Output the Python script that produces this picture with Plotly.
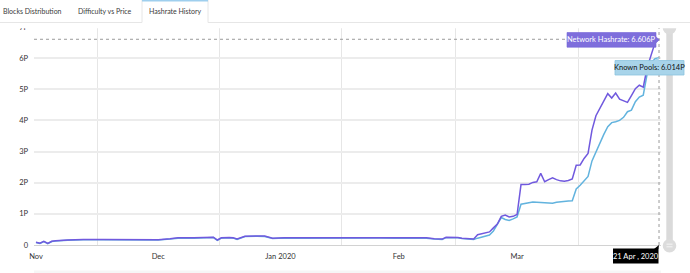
import pandas as pd
import plotly.graph_objects as go

# ---------------- data ----------------
dates = [
    "2019-11-15", "2019-11-16", "2019-11-17", "2019-11-18", "2019-11-19", "2019-11-20", "2019-11-23", "2019-11-27",
    "2019-12-02", "2019-12-08", "2019-12-14", "2019-12-16", "2019-12-19", "2019-12-21", "2019-12-25", "2019-12-29",
    "2019-12-30", "2019-12-31",
    "2020-01-01", "2020-01-03", "2020-01-04", "2020-01-05", "2020-01-07", "2020-01-10", "2020-01-12", "2020-01-14",
    "2020-01-17", "2020-01-21", "2020-01-25", "2020-01-29",
    "2020-02-02", "2020-02-06", "2020-02-10", "2020-02-14", "2020-02-18", "2020-02-22", "2020-02-24", "2020-02-25",
    "2020-02-26", "2020-02-27", "2020-02-28", "2020-02-29",
    "2020-03-01", "2020-03-02", "2020-03-03", "2020-03-04", "2020-03-05", "2020-03-06", "2020-03-07", "2020-03-08",
    "2020-03-09", "2020-03-10", "2020-03-11", "2020-03-12", "2020-03-13", "2020-03-14", "2020-03-15", "2020-03-16",
    "2020-03-17", "2020-03-18", "2020-03-19", "2020-03-20", "2020-03-21", "2020-03-22", "2020-03-23", "2020-03-24",
    "2020-03-25", "2020-03-26", "2020-03-27", "2020-03-28", "2020-03-29", "2020-03-30", "2020-03-31",
    "2020-04-01", "2020-04-02", "2020-04-03", "2020-04-04", "2020-04-05", "2020-04-06", "2020-04-07", "2020-04-08",
    "2020-04-09", "2020-04-10", "2020-04-11", "2020-04-12", "2020-04-13", "2020-04-14", "2020-04-15", "2020-04-16",
    "2020-04-17", "2020-04-18", "2020-04-19", "2020-04-20", "2020-04-21",
]

# Network hashrate (P)
network = [
    0.09, 0.06, 0.12, 0.05, 0.12, 0.14, 0.16, 0.18,
    0.18, 0.185, 0.19, 0.17, 0.20, 0.23, 0.23, 0.235, 0.25, 0.16,
    0.23, 0.24, 0.23, 0.19, 0.28, 0.29, 0.285, 0.22, 0.235, 0.23, 0.235, 0.23,
    0.235, 0.23, 0.235, 0.23, 0.235, 0.23, 0.20, 0.19, 0.19, 0.245, 0.25, 0.245,
    0.24, 0.22, 0.21, 0.20, 0.19, 0.33, 0.36, 0.38, 0.42, 0.55, 0.67, 0.92, 0.96, 0.90, 0.92, 0.98,
    1.94, 1.94, 1.95, 2.01, 2.03, 2.30, 2.03, 2.10, 2.16, 2.10, 2.06, 2.05, 2.07, 2.12, 2.56,
    2.57, 2.78, 2.94, 3.69, 4.15, 4.40, 4.62, 4.86, 4.72, 4.88, 4.68, 4.62, 4.58, 4.80, 5.02, 5.13,
    5.07, 5.70, 6.10, 6.50, 6.606,
]

# Known pools (P)
known = [
    0.08, 0.05, 0.11, 0.04, 0.11, 0.13, 0.15, 0.17,
    0.17, 0.175, 0.18, 0.16, 0.19, 0.22, 0.22, 0.225, 0.24, 0.15,
    0.22, 0.23, 0.22, 0.18, 0.27, 0.28, 0.275, 0.21, 0.225, 0.22, 0.225, 0.22,
    0.225, 0.22, 0.225, 0.22, 0.225, 0.22, 0.19, 0.18, 0.18, 0.235, 0.24, 0.235,
    0.23, 0.21, 0.20, 0.19, 0.18, 0.22, 0.25, 0.28, 0.32, 0.45, 0.65, 0.88, 0.82, 0.79, 0.84, 0.90,
    1.31, 1.33, 1.35, 1.38, 1.37, 1.36, 1.37, 1.35, 1.34, 1.37, 1.39, 1.40, 1.41, 1.42, 1.80,
    1.92, 2.05, 2.20, 2.70, 3.00, 3.30, 3.55, 3.80, 3.93, 3.96, 4.00, 4.10, 4.28, 4.33, 4.60, 4.75,
    4.81, 5.50, 5.85, 5.98, 6.014,
]

month_label_dates = ["2019-11-15 12:00", "2019-12-16 12:00", "2020-01-16 12:00", "2020-02-15 12:00", "2020-03-16 12:00"]
month_labels = ["Nov", "Dec", "Jan 2020", "Feb", "Mar"]
month_starts = ["2019-12-01", "2020-01-01", "2020-02-01", "2020-03-01", "2020-04-01"]
y_ticks = [0, 1, 2, 3, 4, 5, 6, 7]
y_labels = ["0", "1P", "2P", "3P", "4P", "5P", "6P", "7P"]
tabs = ["Blocks Distribution", "Difficulty vs Price", "Hashrate History"]

x_start, x_end = "2019-11-15", "2020-04-22"

# ---------------- styling ----------------
PURPLE = "#7059de"
BLUE = "#62b3de"
FONT = "Lato"
TXT = "#333333"

L, R, T, B = 34, 661, 27, 245   # plot area in pixels
W, PH = R - L, B - T


def X(px):
    return (px - L) / W


def Y(py):
    return (B - py) / PH


xs = pd.to_datetime(dates) + pd.Timedelta(hours=12)
last_x = xs[-1]

fig = go.Figure()
fig.add_trace(go.Scatter(x=xs, y=known, mode="lines", line=dict(color=BLUE, width=1.5),
                         hoverinfo="skip", name="Known Pools"))
fig.add_trace(go.Scatter(x=xs, y=network, mode="lines", line=dict(color=PURPLE, width=1.5),
                         hoverinfo="skip", name="Network Hashrate"))

shapes = []
# cursor lines
shapes.append(dict(type="line", xref="x", yref="y", x0=x_start, x1=last_x, y0=network[-1], y1=network[-1],
                   line=dict(color="#9a9a9a", width=1, dash="dot"), layer="above"))
shapes.append(dict(type="line", xref="x", yref="y", x0=last_x, x1=last_x, y0=0, y1=7,
                   line=dict(color="#9a9a9a", width=1, dash="dot"), layer="above"))

# bottom scrollbar strip
shapes.append(dict(type="rect", xref="paper", yref="paper", x0=X(34), x1=X(661), y0=Y(273), y1=Y(270.5),
                   fillcolor="#f6f6f6", line=dict(width=0), layer="above"))

# vertical scrollbar
shapes.append(dict(type="rect", xref="paper", yref="paper", x0=X(666.3), x1=X(672.8), y0=Y(245), y1=Y(28),
                   fillcolor="#dadada", line=dict(width=0), layer="above"))
shapes.append(dict(type="circle", xref="paper", yref="paper", x0=X(662.7), x1=X(676.3), y0=Y(34.5), y1=Y(20.9),
                   fillcolor="#dcdcdc", line=dict(width=0), layer="above"))
shapes.append(dict(type="circle", xref="paper", yref="paper", x0=X(662.7), x1=X(676.3), y0=Y(252.5), y1=Y(238.9),
                   fillcolor="#dcdcdc", line=dict(width=0), layer="above"))
for yy in (244.2, 246.8):
    shapes.append(dict(type="line", xref="paper", yref="paper", x0=X(666.5), x1=X(672.5), y0=Y(yy), y1=Y(yy),
                       line=dict(color="#f4f4f4", width=1), layer="above"))

# white cover on top (tab bar area)
shapes.append(dict(type="rect", xref="paper", yref="paper", x0=X(0), x1=X(690), y0=Y(28.3), y1=Y(0),
                   fillcolor="white", line=dict(width=0), layer="above"))
# tab bar lines
shapes.append(dict(type="line", xref="paper", yref="paper", x0=X(0), x1=X(142), y0=Y(22.5), y1=Y(22.5),
                   line=dict(color="#e6e6e6", width=1), layer="above"))
shapes.append(dict(type="line", xref="paper", yref="paper", x0=X(208), x1=X(690), y0=Y(22.5), y1=Y(22.5),
                   line=dict(color="#e6e6e6", width=1), layer="above"))
for xx in (142, 208):
    shapes.append(dict(type="line", xref="paper", yref="paper", x0=X(xx), x1=X(xx), y0=Y(0), y1=Y(22.5),
                       line=dict(color="#e6e6e6", width=1), layer="above"))
shapes.append(dict(type="line", xref="paper", yref="paper", x0=X(142), x1=X(208), y0=Y(0.8), y1=Y(0.8),
                   line=dict(color="#9fcfee", width=1.6), layer="above"))


def path(points):
    s = "M " + " L ".join(f"{X(a)},{Y(b)}" for a, b in points) + " Z"
    return s


# Network hashrate tooltip
shapes.append(dict(type="rect", xref="paper", yref="paper", x0=X(567), x1=X(656), y0=Y(47.2), y1=Y(32.5),
                   fillcolor="#7e6edc", line=dict(color="#7465d6", width=0.6), layer="above"))
shapes.append(dict(type="path", xref="paper", yref="paper", path=path([(655.5, 36), (659.5, 39.8), (655.5, 43.5)]),
                   fillcolor="#7e6edc", line=dict(width=0), layer="above"))
# Known pools tooltip
shapes.append(dict(type="rect", xref="paper", yref="paper", x0=X(615), x1=X(684), y0=Y(75), y1=Y(60.5),
                   fillcolor="#a8d4ea", line=dict(color="#8bc3de", width=0.8), layer="above"))
shapes.append(dict(type="path", xref="paper", yref="paper", path=path([(653, 61), (659, 57.3), (658.5, 61)]),
                   fillcolor="#a8d4ea", line=dict(width=0), layer="above"))
# Date tooltip
shapes.append(dict(type="rect", xref="paper", yref="paper", x0=X(613), x1=X(658.5), y0=Y(263.5), y1=Y(248.5),
                   fillcolor="#000000", line=dict(width=0), layer="above"))
shapes.append(dict(type="path", xref="paper", yref="paper", path=path([(654, 249), (659, 245), (658.5, 249)]),
                   fillcolor="#000000", line=dict(width=0), layer="above"))

annotations = []
tab_centers = [32, 105, 175]
for t, cx in zip(tabs, tab_centers):
    annotations.append(dict(text=t, xref="paper", yref="paper", x=X(cx), y=Y(11.5), showarrow=False,
                            xanchor="center", yanchor="middle", font=dict(family=FONT, size=7, color="#3a3a3a")))
annotations.append(dict(text=f"Network Hashrate: {network[-1]:.3f}P", xref="paper", yref="paper",
                        x=X(611.5), y=Y(39.8), showarrow=False, xanchor="center", yanchor="middle",
                        font=dict(family=FONT, size=7.5, color="white")))
annotations.append(dict(text=f"Known Pools: {known[-1]:.3f}P", xref="paper", yref="paper",
                        x=X(649.5), y=Y(67.8), showarrow=False, xanchor="center", yanchor="middle",
                        font=dict(family=FONT, size=7.5, color="#111111")))
annotations.append(dict(text="21 Apr , 2020", xref="paper", yref="paper",
                        x=X(635.7), y=Y(256), showarrow=False, xanchor="center", yanchor="middle",
                        font=dict(family=FONT, size=7.5, color="white")))

fig.update_layout(
    width=690, height=273,
    margin=dict(l=L, r=690 - R, t=T, b=273 - B, pad=0),
    paper_bgcolor="white", plot_bgcolor="white",
    showlegend=False,
    font=dict(family=FONT, size=7.5, color=TXT),
    shapes=shapes,
    annotations=annotations,
    xaxis=dict(
        type="date", range=[x_start, x_end],
        tickmode="array", tickvals=month_label_dates, ticktext=month_labels,
        showgrid=False, zeroline=False, ticks="",
        showline=True, linecolor="#d2d2d2", linewidth=1,
        ticklabelstandoff=4,
        tickfont=dict(family=FONT, size=7.5, color=TXT),
        minor=dict(tickmode="array", tickvals=month_starts, showgrid=True,
                   gridcolor="#e6e6e6", gridwidth=1, ticks=""),
        fixedrange=True,
    ),
    yaxis=dict(
        range=[0, 7], tickmode="array", tickvals=y_ticks, ticktext=y_labels,
        showgrid=True, gridcolor="#ececec", gridwidth=1.5, zeroline=False, ticks="",
        ticklabelstandoff=5,
        tickfont=dict(family=FONT, size=7.5, color=TXT),
        fixedrange=True,
    ),
)

fig.write_html("out.html")
